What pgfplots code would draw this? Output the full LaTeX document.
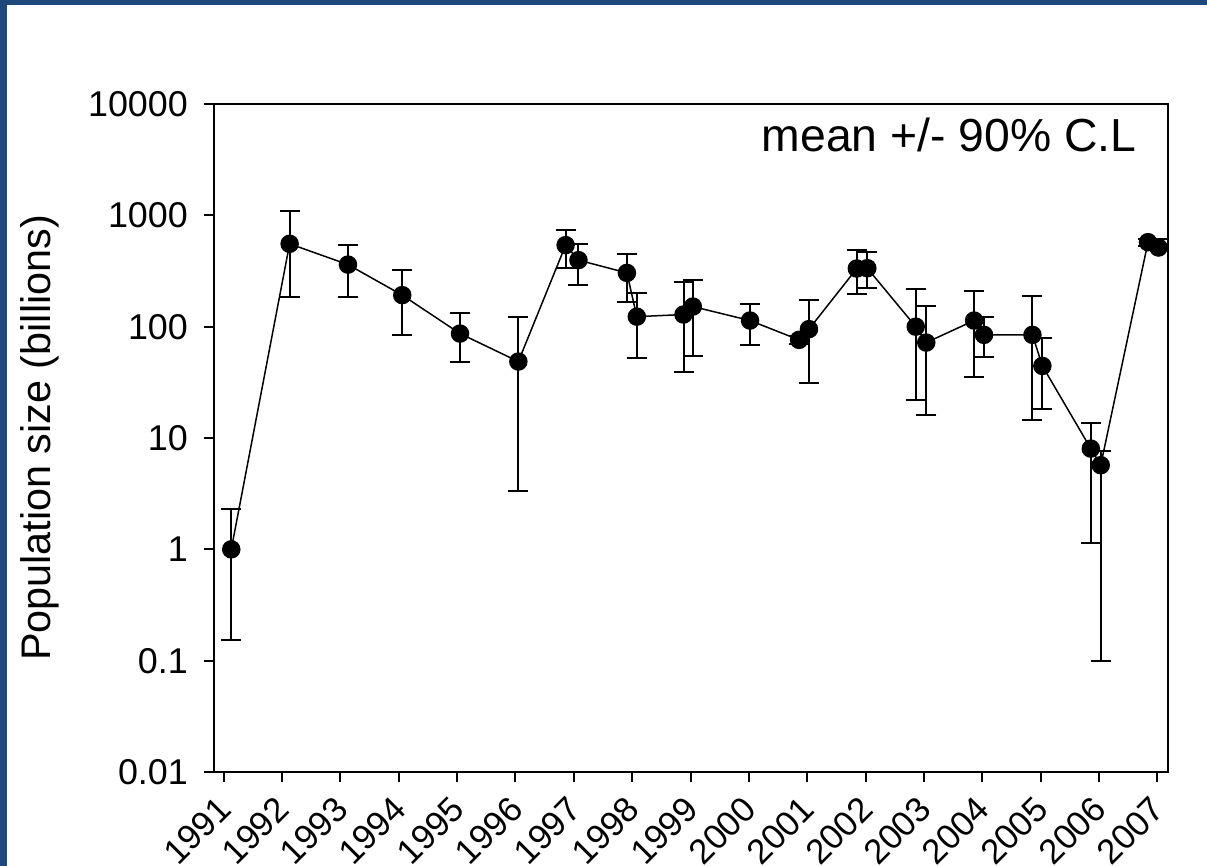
\documentclass[border=0pt]{standalone}
\usepackage{pgfplots}
\pgfplotsset{compat=1.18}
\usepackage{fontspec}
\setmainfont{Liberation Sans}
\definecolor{frameblue}{RGB}{31,73,125}
\newcommand{\yr}[1]{\hbox{\fontsize{35}{39}\selectfont #1}}

% yearly estimates: mean, with upper (ep) and lower (em) distance to the 90% limits
\pgfplotstableread{
x        y      ep     em
1991.13  1.0    1.29   0.848
1992.13  555    542    372
1993.13  361    179    178
1994.06  192    132    107
1995.05  86.7   45.3   38.1
1996.05  48.6   73.4   45.27
1996.86  540    201    205
1997.08  396    162    160
1997.91  304    150    136
1998.08  123    77     70.9
1998.88  128.5  124.5  89.2
1999.04  151.6  108.4  97.3
2000.02  113.5  46.5   44.5
2000.86  76.1   6.9    6.1
2001.03  95     79     63.9
2001.85  333    154    137
2002.03  335    133    112
2002.86  100    119    78.1
2003.04  72     82     56
2003.86  113.5  96.5   78.3
2004.03  84.4   38.6   31.2
2004.86  84.4   104.6  69.9
2005.03  44.4   34.9   26.1
2005.86  8.03   5.57   6.9
2006.03  5.7    1.93   5.601
2006.84  574    40     40
2007.02  514    100    30
}\popdata

\begin{document}
\begin{tikzpicture}
\useasboundingbox (0bp,0bp) rectangle (1207bp,866bp);
\fill[frameblue] (0bp,0bp) rectangle (1207bp,866bp);
\fill[white] (7bp,0bp) rectangle (1207bp,861bp);
\begin{axis}[
  at={(214bp,94bp)}, anchor=south west,
  scale only axis, width=954bp, height=668bp,
  xmin=1990.834, xmax=2007.183,
  ymode=log, ymin=0.01, ymax=10000,
  yminorticks=false,
  xtick={1991,1992,1993,1994,1995,1996,1997,1998,1999,2000,2001,2002,2003,2004,2005,2006,2007},
  xticklabels={\yr{1991},\yr{1992},\yr{1993},\yr{1994},\yr{1995},\yr{1996},\yr{1997},\yr{1998},\yr{1999},\yr{2000},\yr{2001},\yr{2002},\yr{2003},\yr{2004},\yr{2005},\yr{2006},\yr{2007}},
  ytick={0.01,0.1,1,10,100,1000,10000},
  yticklabels={\mbox{0.01},\mbox{0.1},\mbox{1},\mbox{10},\mbox{100},\mbox{1000},\mbox{10000}},
  xtick pos=bottom, ytick pos=left,
  tick align=outside, major tick length=10bp,
  tick style={black, line width=2bp},
  axis line style={line width=2bp},
  yticklabel style={font=\fontsize{36}{40}\selectfont, inner sep=0pt, xshift=-16bp},
  xticklabel style={anchor=east, inner sep=0pt, xshift=1bp, yshift=-21bp, rotate=45},
  ylabel={Population size (billions)},
  every axis y label/.style={at={(axis description cs:-0.183,0.5)}, rotate=90, anchor=center},
  ylabel style={font=\fontsize{41.5}{48}\selectfont},
]
\addplot[black, line width=1.5bp, mark=*, mark size=8.5bp, mark options={fill=black},
  error bars/.cd, y dir=both, y explicit,
  error bar style={line width=2bp},
  error mark options={line width=2bp, mark size=10bp, rotate=90}]
  table[x=x, y=y, y error plus=ep, y error minus=em] {\popdata};
\node[anchor=base east, font=\fontsize{46.5}{52}\selectfont] at (axis description cs:0.9706,0.9286) {mean +/- 90\% C.L};
\end{axis}
\end{tikzpicture}
\end{document}
